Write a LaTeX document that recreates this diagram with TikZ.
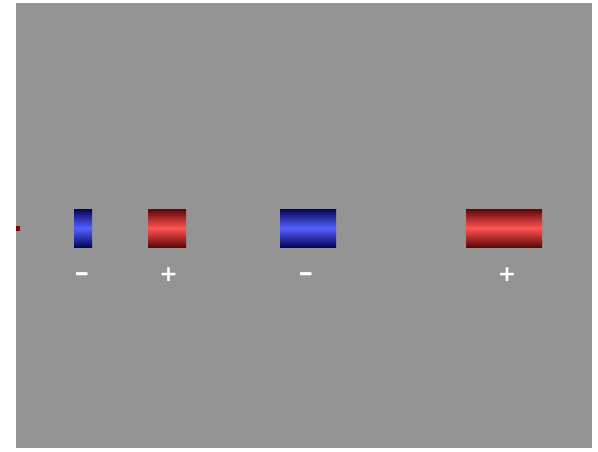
\documentclass[tikz,border=0pt]{standalone}
\usepackage{fontspec}
\setmainfont{DejaVu Sans}
\definecolor{bg}{RGB}{148,148,148}
\definecolor{bluedark}{RGB}{5,5,90}
\definecolor{bluemid}{RGB}{85,95,255}
\definecolor{reddark}{RGB}{95,5,5}
\definecolor{redmid}{RGB}{255,85,85}
\tikzset{
  bluebar/.style={inner sep=0pt, outer sep=0pt, top color=bluedark, bottom color=bluedark, middle color=bluemid},
  redbar/.style={inner sep=0pt, outer sep=0pt, top color=reddark, bottom color=reddark, middle color=redmid},
  sign/.style={text=white, font=\bfseries\fontsize{22}{22}\selectfont, inner sep=0pt, anchor=base},
  minussign/.style={sign, xscale=1.7}
}
\begin{document}
\begin{tikzpicture}[x=1pt,y=-1pt]
\useasboundingbox (0,0) rectangle (598,451);
\fill[white] (0,0) rectangle (598,451);
\fill[bg] (16,3) rectangle (592,448);
\fill[reddark!80!red] (16,226) rectangle (20,231);
\node[bluebar, minimum width=18pt, minimum height=38pt] (b1) at (83,228) {};
\node[redbar, minimum width=38pt, minimum height=38pt] (r1) at (167,228) {};
\node[bluebar, minimum width=56pt, minimum height=38pt] (b2) at (308,228) {};
\node[redbar, minimum width=76pt, minimum height=38pt] (r2) at (504,228) {};
\node[minussign] (s1) at (82,280) {-};
\node[sign] (s2) at (168.5,281) {+};
\node[minussign] (s3) at (306,280) {-};
\node[sign] (s4) at (507,281) {+};
\end{tikzpicture}
\end{document}
